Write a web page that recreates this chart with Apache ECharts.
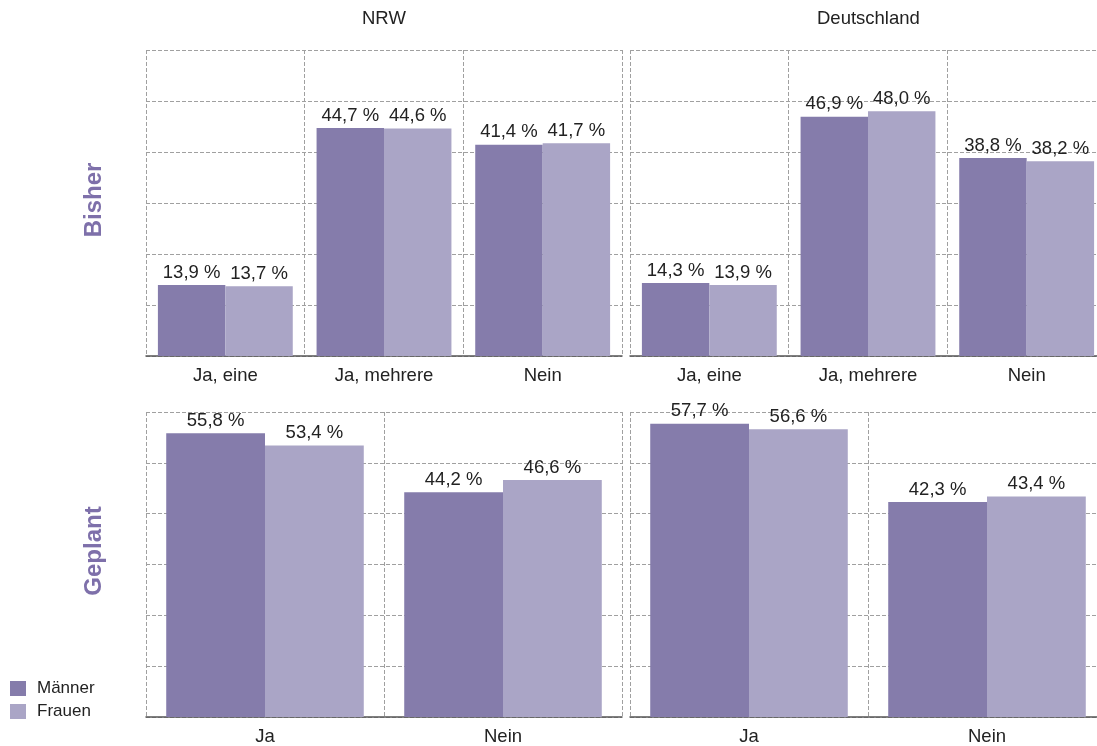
<!DOCTYPE html>
<html>
<head>
<meta charset="utf-8">
<script src="https://cdn.jsdelivr.net/npm/echarts@6/dist/echarts.min.js"></script>
<style>
  html, body { margin: 0; padding: 0; background: #fff; overflow: hidden; }
  #chart { width: 1106px; height: 746px; }
</style>
</head>
<body>
<div id="chart"></div>
<script>
var catBisher = ['Ja, eine', 'Ja, mehrere', 'Nein'];
var catGeplant = ['Ja', 'Nein'];

var nrwBisherMaenner = [13.9, 44.7, 41.4];
var nrwBisherFrauen = [13.7, 44.6, 41.7];
var deBisherMaenner = [14.3, 46.9, 38.8];
var deBisherFrauen = [13.9, 48.0, 38.2];

var nrwGeplantMaenner = [55.8, 44.2];
var nrwGeplantFrauen = [53.4, 46.6];
var deGeplantMaenner = [57.7, 42.3];
var deGeplantFrauen = [56.6, 43.4];

var colMaenner = '#857cab';
var colFrauen = '#aaa5c6';
var font = 'Liberation Sans, Arial, sans-serif';
var fs = 18.5;

function fmt(p) {
	return p.value.toFixed(1).replace('.', ',') + ' %';
}

function xAx(idx, cats) {
	return {
		type: 'category', gridIndex: idx, data: cats,
		axisLine: {lineStyle: {color: '#555', width: 1.5}},
		axisTick: {show: false},
		axisLabel: {color: '#222', fontSize: fs, fontFamily: font, margin: 10},
		splitLine: {show: true, lineStyle: {color: '#a0a0a0', type: [4, 2]}}
	};
}

function yAx(idx) {
	return {
		type: 'value', gridIndex: idx, min: 0, max: 60, interval: 10,
		axisLine: {show: false}, axisTick: {show: false}, axisLabel: {show: false},
		splitLine: {lineStyle: {color: '#a0a0a0', type: [4, 2]}}
	};
}

function bar(name, idx, data, color, gap) {
	return {
		name: name, type: 'bar', xAxisIndex: idx, yAxisIndex: idx,
		data: data, barGap: '0%', barCategoryGap: gap,
		itemStyle: {color: color},
		label: {show: true, position: 'top', distance: 3, color: '#222', fontSize: fs, fontFamily: font, formatter: fmt}
	};
}

var option = {
	animation: false,
	textStyle: {fontFamily: font},
	title: [
		{text: 'NRW', left: 362, top: 9, padding: 0, textStyle: {fontSize: fs, fontWeight: 'normal', color: '#222'}},
		{text: 'Deutschland', left: 817, top: 9, padding: 0, textStyle: {fontSize: fs, fontWeight: 'normal', color: '#222'}}
	],
	legend: {
		data: ['Männer', 'Frauen'],
		orient: 'vertical', left: 5, top: 675,
		itemWidth: 16, itemHeight: 15, itemGap: 6, icon: 'rect',
		textStyle: {fontSize: 17, color: '#222', fontFamily: font, padding: [0, 0, 0, 6]}
	},
	grid: [
		{left: 146, top: 50, width: 476, height: 306},
		{left: 630, top: 50, width: 476, height: 306},
		{left: 146, top: 412, width: 476, height: 306},
		{left: 630, top: 412, width: 476, height: 306}
	],
	xAxis: [xAx(0, catBisher), xAx(1, catBisher), xAx(2, catGeplant), xAx(3, catGeplant)],
	yAxis: [yAx(0), yAx(1), yAx(2), yAx(3)],
	graphic: [
		{type: 'text', x: 94, y: 200, rotation: Math.PI / 2,
			style: {text: 'Bisher', fill: '#7e70aa', font: 'bold 24px ' + font, textAlign: 'center', textVerticalAlign: 'middle'}},
		{type: 'text', x: 94, y: 551, rotation: Math.PI / 2,
			style: {text: 'Geplant', fill: '#7e70aa', font: 'bold 24px ' + font, textAlign: 'center', textVerticalAlign: 'middle'}}
	],
	series: [
		bar('Männer', 0, nrwBisherMaenner, colMaenner, '15%'),
		bar('Frauen', 0, nrwBisherFrauen, colFrauen, '15%'),
		bar('Männer', 1, deBisherMaenner, colMaenner, '15%'),
		bar('Frauen', 1, deBisherFrauen, colFrauen, '15%'),
		bar('Männer', 2, nrwGeplantMaenner, colMaenner, '17%'),
		bar('Frauen', 2, nrwGeplantFrauen, colFrauen, '17%'),
		bar('Männer', 3, deGeplantMaenner, colMaenner, '17%'),
		bar('Frauen', 3, deGeplantFrauen, colFrauen, '17%')
	]
};

var chart = echarts.init(document.getElementById('chart'));
chart.setOption(option);
</script>
</body>
</html>
